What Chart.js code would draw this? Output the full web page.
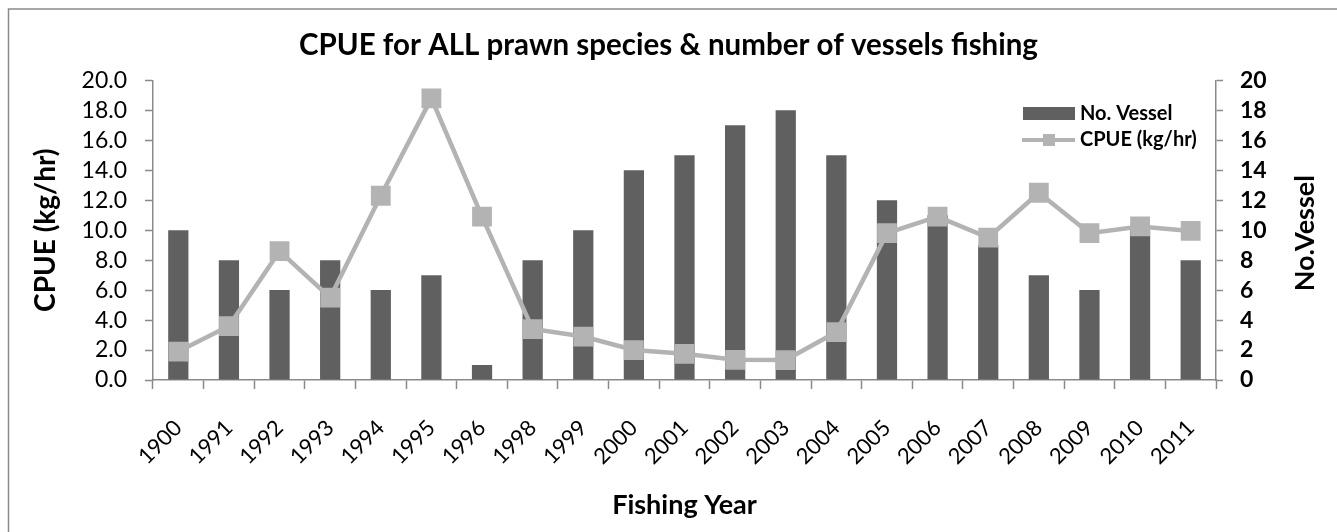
<!DOCTYPE html>
<html>
<head>
<meta charset="utf-8">
<script src="https://cdn.jsdelivr.net/npm/chart.js@4"></script>
<style>
  body { margin: 0; background: #fff; }
  #wrap { width: 1337px; height: 532px; position: relative; }
</style>
</head>
<body>
<div id="wrap"><canvas id="chart"></canvas></div>
<script>
const years = ['1900', '1991', '1992', '1993', '1994', '1995', '1996', '1998', '1999', '2000', '2001',
               '2002', '2003', '2004', '2005', '2006', '2007', '2008', '2009', '2010', '2011'];
const vessels = [10, 8, 6, 8, 6, 7, 1, 8, 10, 14, 15, 17, 18, 15, 12, 11, 9, 7, 6, 10, 8];
const cpue = [1.9, 3.6, 8.6, 5.5, 12.3, 18.8, 10.9, 3.4, 2.9, 2.0, 1.75, 1.35, 1.33, 3.2, 9.8, 10.9, 9.5, 12.5, 9.8, 10.25, 9.95];

const FONT = 'Lato';
const barColor = '#606060';
const lineColor = '#b3b3b3';
const axisColor = '#8a8a8a';

// frame, right-hand axis title and legend are painted by hand
const extras = {
    id: 'extras',
    beforeDraw(chart) {
        const c = chart.ctx;
        c.save();
        c.fillStyle = '#fff';
        c.fillRect(0, 0, chart.width, chart.height);
        c.strokeStyle = axisColor;
        c.lineWidth = 1.5;
        c.strokeRect(8.5, 9, chart.width + 20, chart.height + 20);
        c.restore();
    },
    afterDraw(chart) {
        const c = chart.ctx;
        const area = chart.chartArea;
        c.save();
        // right axis title, reading upwards
        c.translate(1305, (area.top + area.bottom) / 2 + 3);
        c.rotate(-Math.PI / 2);
        c.font = `bold 27px ${FONT}`;
        c.fillStyle = '#000';
        c.textAlign = 'center';
        c.textBaseline = 'middle';
        c.fillText('No.Vessel', 0, 0);
        c.restore();

        c.save();
        c.font = `bold 20px ${FONT}`;
        c.textBaseline = 'middle';
        c.fillStyle = barColor;
        c.fillRect(1023, 107, 52, 13);
        c.fillStyle = '#000';
        c.fillText('No. Vessel', 1080, 114);

        c.strokeStyle = lineColor;
        c.lineWidth = 4;
        c.beginPath();
        c.moveTo(1022, 140);
        c.lineTo(1075, 140);
        c.stroke();
        c.fillStyle = lineColor;
        c.fillRect(1043, 134, 12, 12);
        c.fillStyle = '#000';
        c.fillText('CPUE (kg/hr)', 1080, 140);
        c.restore();
    }
};

new Chart(document.getElementById('chart'), {
    data: {
        labels: years,
        datasets: [{
            type: 'line',
            label: 'CPUE (kg/hr)',
            data: cpue,
            yAxisID: 'y',
            borderColor: lineColor,
            backgroundColor: lineColor,
            borderWidth: 4.5,
            tension: 0,
            pointStyle: 'rect',
            pointRadius: 14,
            pointBorderWidth: 0,
            pointBackgroundColor: lineColor,
            order: 0
        }, {
            type: 'bar',
            label: 'No. Vessel',
            data: vessels,
            yAxisID: 'y1',
            backgroundColor: barColor,
            categoryPercentage: 1,
            barPercentage: 0.4,
            order: 1
        }]
    },
    options: {
        responsive: true,
        maintainAspectRatio: false,
        animation: false,
        layout: { padding: 0 },
        plugins: {
            legend: { display: false },
            tooltip: { enabled: false },
            title: {
                display: true,
                text: 'CPUE for ALL prawn species & number of vessels fishing',
                color: '#000',
                font: { family: FONT, size: 29.5, weight: 'bold' },
                padding: { top: 28, bottom: 17 }
            }
        },
        scales: {
            x: {
                offset: true,
                grid: { offset: true, drawOnChartArea: false, tickLength: 9, color: axisColor, tickWidth: 1.5 },
                border: { color: axisColor, width: 1.5 },
                ticks: {
                    color: '#000',
                    font: { family: FONT, size: 22 },
                    minRotation: 45,
                    maxRotation: 45,
                    padding: 26,
                    autoSkip: false
                },
                title: {
                    display: true,
                    text: 'Fishing Year',
                    color: '#000',
                    font: { family: FONT, size: 27, weight: 'bold' },
                    padding: { bottom: 11 }
                },
                afterFit(scale) { scale.height = 152; }
            },
            y: {
                position: 'left',
                min: 0,
                max: 20,
                grid: { drawOnChartArea: false, tickLength: 8, color: axisColor, tickWidth: 1.5 },
                border: { color: axisColor, width: 1.5 },
                ticks: {
                    stepSize: 2,
                    autoSkip: false,
                    color: '#000',
                    font: { family: FONT, size: 23 },
                    padding: 18,
                    callback: v => v.toFixed(1)
                },
                title: {
                    display: true,
                    text: 'CPUE (kg/hr)',
                    color: '#000',
                    font: { family: FONT, size: 28, weight: 'bold' },
                    padding: { top: 29 }
                },
                afterFit(scale) { scale.width = 153; }
            },
            y1: {
                position: 'right',
                min: 0,
                max: 20,
                grid: { drawOnChartArea: false, tickLength: 7, color: axisColor, tickWidth: 1.5 },
                border: { color: axisColor, width: 1.5 },
                ticks: {
                    stepSize: 2,
                    autoSkip: false,
                    color: '#000',
                    font: { family: FONT, size: 23, weight: 'bold' },
                    padding: 17
                },
                afterFit(scale) { scale.width = 121; }
            }
        }
    },
    plugins: [extras]
});
</script>
</body>
</html>
